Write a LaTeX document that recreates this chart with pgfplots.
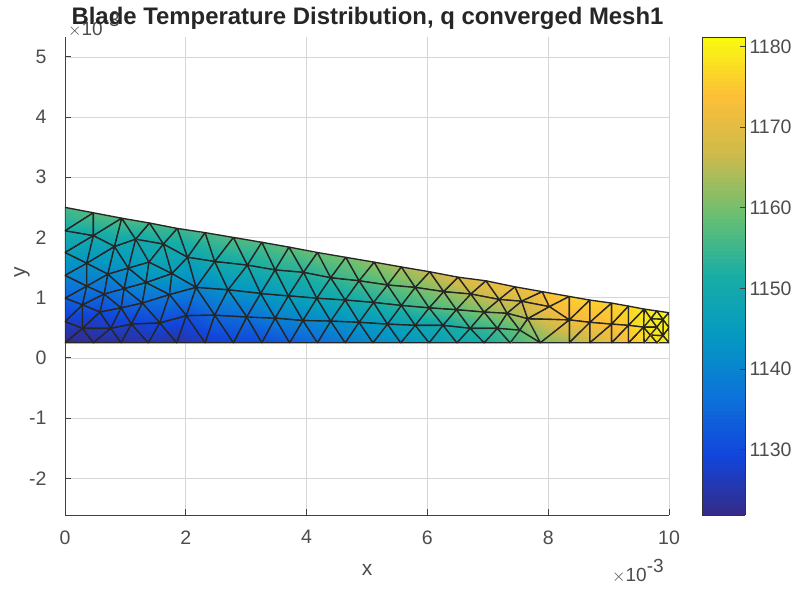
\documentclass[border=0pt]{standalone}
\usepackage{pgfplots}
\pgfplotsset{compat=1.18}
\usepgfplotslibrary{patchplots}
\usepackage{fontspec}
\setmainfont{Liberation Sans}
\definecolor{tk}{gray}{0.3}
\definecolor{gr}{gray}{0.84}
\pgfplotsset{colormap={parulaish}{rgb=(.208,.166,.529) rgb=(.07,.27,.86) rgb=(.05,.45,.85) rgb=(.02,.60,.76) rgb=(.09,.68,.65) rgb=(.40,.75,.45) rgb=(.80,.73,.30) rgb=(.99,.75,.22) rgb=(.976,.984,.055)}}
\begin{document}
\begin{tikzpicture}
\path[use as bounding box] (-65pt,-75pt) rectangle (736pt,515pt);
\begin{axis}[at={(0pt,0pt)},anchor=south west,scale only axis,width=604pt,height=478pt,
 xmin=0,xmax=10,ymin=-2.61,ymax=5.33,
 axis x line*=bottom,axis y line*=left,
 axis line style={-,black!75,line width=0.9pt},
 tick align=inside,tick style={black!75,line width=0.8pt},major tick length=6pt,
 xtick={0,2,4,6,8,10},ytick={-2,-1,0,1,2,3,4,5},
 grid=major,grid style={gr,line width=0.7pt},
 ticklabel style={text=tk,font=\fontsize{19.5}{22}\selectfont},
 xticklabel style={yshift=-12pt},
 yticklabel style={xshift=-15pt},
 /pgf/number format/assume math mode=true,
 colormap name=parulaish,
 point meta min=1121.9,point meta max=1181.2,
 colorbar sampled,
 colorbar style={at={(1.0546,0)},anchor=south west,scale only axis,width=43pt,height=478pt,
   samples=120,
   ytick={1130,1140,1150,1160,1170,1180},
   yticklabel pos=right,ytick pos=right,tick align=inside,
   major tick length=5pt,
   axis line style={black!80,line width=0.9pt},
   /pgf/number format/1000 sep={},
   xticklabel style={yshift=0pt},yticklabel style={xshift=1pt},
   ticklabel style={text=tk,font=\fontsize{19.5}{22}\selectfont},
   /pgf/number format/assume math mode=true},
]
\addplot[patch,patch type=triangle,shader=faceted interp,faceted color=black!85,line width=1.35pt,table/row sep=\\,
patch table={
0 7 1\\ 1 7 30\\ 7 8 30\\ 8 31 30\\ 8 32 31\\ 8 9 32\\
1 30 2\\ 2 30 37\\ 30 31 37\\ 31 41 37\\ 31 38 41\\ 31 32 38\\
2 37 3\\ 37 46 3\\ 37 41 46\\ 41 49 46\\ 41 47 49\\ 41 38 47\\
3 46 4\\ 46 50 4\\ 46 49 50\\ 49 53 50\\ 49 51 53\\ 49 47 51\\
4 50 5\\ 50 57 5\\ 50 53 57\\ 53 58 57\\ 53 51 58\\ 51 59 58\\
5 57 6\\ 57 61 6\\ 57 58 61\\ 58 62 61\\ 58 59 62\\ 59 63 62\\
9 33 32\\ 9 10 33\\ 10 34 33\\ 10 11 34\\ 11 35 34\\ 11 12 35\\ 12 36 35\\ 12 13 36\\ 13 84 36\\ 13 14 84\\
32 33 39\\ 33 40 39\\ 33 34 40\\ 34 43 40\\ 34 35 43\\ 35 44 43\\
32 39 38\\ 39 42 38\\ 39 40 42\\ 40 48 42\\ 40 43 48\\ 43 54 48\\ 43 55 54\\ 43 44 55\\
38 42 47\\ 42 52 47\\ 42 48 52\\ 48 60 52\\ 48 54 60\\
47 52 51\\ 51 52 59\\ 52 60 59\\
59 60 63\\ 60 64 63\\ 60 54 64\\ 54 65 64\\ 54 55 65\\ 55 66 65\\ 55 56 66\\ 56 67 66\\ 56 110 67\\ 110 68 67\\
35 36 44\\ 36 45 44\\ 44 45 56\\ 44 56 55\\ 45 110 56\\ 45 100 110\\ 36 84 45\\ 84 100 45\\
14 85 84\\ 14 15 85\\ 15 86 85\\ 15 16 86\\ 16 87 86\\ 16 17 87\\ 17 88 87\\ 17 18 88\\ 18 89 88\\ 18 19 89\\ 19 90 89\\ 19 20 90\\ 20 91 90\\ 20 21 91\\ 21 92 91\\ 21 22 92\\ 22 93 92\\ 22 23 93\\ 23 94 93\\ 23 24 94\\ 24 95 94\\ 24 25 95\\ 25 96 95\\ 25 26 96\\ 26 97 96\\ 26 27 97\\ 27 98 97\\ 27 28 98\\ 28 99 98\\
95 78 96\\ 78 79 96\\ 96 79 97\\ 79 80 97\\ 97 80 98\\ 80 81 98\\ 98 81 99\\ 81 82 99\\
84 85 100\\ 85 101 100\\ 85 86 101\\ 86 102 101\\ 86 87 102\\ 87 103 102\\ 87 88 103\\ 88 104 103\\ 88 89 104\\ 89 105 104\\ 89 90 105\\ 90 106 105\\ 90 91 106\\ 91 107 106\\ 91 92 107\\ 92 108 107\\ 92 93 108\\ 93 109 108\\ 93 94 109\\ 94 95 109\\
100 111 110\\ 100 101 111\\ 101 112 111\\ 101 102 112\\ 102 113 112\\ 102 103 113\\ 103 114 113\\ 103 104 114\\ 104 115 114\\ 104 105 115\\ 105 116 115\\ 105 106 116\\ 106 117 116\\ 106 107 117\\ 107 118 117\\ 107 108 118\\ 108 119 118\\ 108 109 119\\
109 95 77\\ 95 78 77\\ 109 77 119\\ 119 77 76\\
110 111 68\\ 111 69 68\\ 111 112 69\\ 112 70 69\\ 112 113 70\\ 113 71 70\\ 113 114 71\\ 114 72 71\\ 114 115 72\\ 115 73 72\\ 115 116 73\\ 116 74 73\\ 116 117 74\\ 117 75 74\\ 117 118 75\\ 118 76 75\\ 118 119 76\\
28 122 124\\ 122 125 124\\ 122 29 125\\ 29 121 125\\ 121 126 125\\ 121 83 126\\ 83 123 126\\ 123 127 126\\ 123 82 127\\ 82 99 127\\ 99 124 120\\ 99 28 124\\ 124 125 120\\ 125 126 120\\ 126 127 120\\ 127 99 120\\
}] table[x=x,y=y,point meta=\thisrow{c}] {
x y c\\
0 2.50 1156\\
0 2.11 1151\\
0 1.75 1146\\
0 1.37 1140\\
0 0.99 1134\\
0 0.60 1127\\
0 0.25 1122\\
.47 2.41 1157\\
.94 2.32 1157\\
1.40 2.24 1156\\
1.86 2.15 1155\\
2.32 2.08 1156\\
2.79 2.00 1157\\
3.26 1.92 1157\\
3.71 1.84 1158\\
4.18 1.75 1159\\
4.65 1.67 1160\\
5.12 1.59 1162\\
5.57 1.51 1164\\
6.04 1.43 1166\\
6.51 1.34 1169\\
6.97 1.28 1171\\
7.45 1.18 1172\\
7.90 1.10 1173\\
8.35 1.02 1176\\
8.69 .96 1176\\
9.05 .91 1176\\
9.33 .86 1177\\
9.59 .81 1179\\
10 .75 1181\\
.47 2.03 1150\\
.82 1.85 1148\\
1.17 1.97 1150\\
1.63 1.89 1151\\
2.03 1.67 1148\\
2.48 1.60 1150\\
3.02 1.54 1151\\
.36 1.57 1143\\
1.05 1.49 1143\\
1.39 1.59 1147\\
1.77 1.40 1145\\
.71 1.39 1141\\
1.34 1.25 1142\\
2.17 1.17 1140\\
2.70 1.13 1143\\
3.24 1.07 1144\\
.36 1.19 1138\\
.98 1.15 1138\\
1.73 1.05 1138\\
.65 1.06 1135\\
.29 .88 1133\\
.93 .83 1133\\
1.28 .91 1135\\
.58 .76 1130\\
2.01 .70 1131\\
2.48 .71 1135\\
3.01 .68 1136\\
.29 .49 1125\\
.76 .49 1127\\
1.10 .56 1128\\
1.57 .58 1130\\
.47 .25 1123\\
.93 .25 1123\\
1.38 .25 1125\\
1.85 .25 1124\\
2.32 .25 1127\\
2.79 .25 1129\\
3.26 .25 1130\\
3.72 .25 1133\\
4.18 .25 1135\\
4.64 .25 1138\\
5.10 .25 1141\\
5.56 .25 1143\\
6.03 .25 1146\\
6.49 .25 1149\\
6.94 .25 1151\\
7.37 .25 1155\\
7.87 .25 1160\\
8.35 .25 1163\\
8.69 .25 1167\\
9.05 .25 1170\\
9.33 .25 1174\\
9.59 .25 1177\\
10 .25 1180\\
3.48 1.46 1152\\
3.95 1.42 1153\\
4.40 1.33 1154\\
4.87 1.28 1156\\
5.34 1.21 1158\\
5.80 1.17 1160\\
6.27 1.10 1162\\
6.72 1.06 1165\\
7.19 .97 1167\\
7.56 .94 1168\\
8.02 .85 1172\\
8.35 .63 1172\\
8.69 .59 1173\\
9.05 .56 1174\\
9.33 .54 1176\\
9.58 .51 1178\\
3.70 1.03 1146\\
4.17 .99 1148\\
4.64 .96 1150\\
5.11 .92 1152\\
5.57 .87 1154\\
6.03 .83 1156\\
6.48 .80 1158\\
6.94 .76 1161\\
7.32 .74 1163\\
7.66 .65 1165\\
3.48 .66 1139\\
3.94 .62 1140\\
4.40 .61 1142\\
4.87 .59 1144\\
5.34 .56 1146\\
5.80 .54 1148\\
6.26 .54 1150\\
6.71 .49 1153\\
7.16 .49 1156\\
7.53 .46 1159\\
9.80 .51 1179\\
10 .50 1180\\
9.80 .78 1180\\
9.80 .25 1178\\
9.70 .65 1179\\
9.90 .64 1180\\
9.90 .37 1179\\
9.69 .38 1178\\
};
\end{axis}
\node[text=tk,font=\fontsize{21}{24}\selectfont] at (302pt,-55pt) {x};
\node[text=tk,font=\fontsize{21}{24}\selectfont,rotate=90] at (-43pt,243pt) {y};
\node[text=tk,font=\fontsize{19}{22}\selectfont,anchor=west,inner sep=0pt] at (547pt,-56pt) {$\times$10\raisebox{0.45em}{\fontsize{19}{22}\selectfont -3}};
\node[text=tk,font=\fontsize{19}{22}\selectfont,anchor=west,inner sep=0pt] at (3pt,490pt) {$\times$10\raisebox{0.45em}{\fontsize{19}{22}\selectfont -3}};
\node[text=black!85,font=\fontsize{23.9}{26}\selectfont\bfseries] at (302.5pt,497pt) {Blade Temperature Distribution, q converged Mesh1};
\end{tikzpicture}
\end{document}
